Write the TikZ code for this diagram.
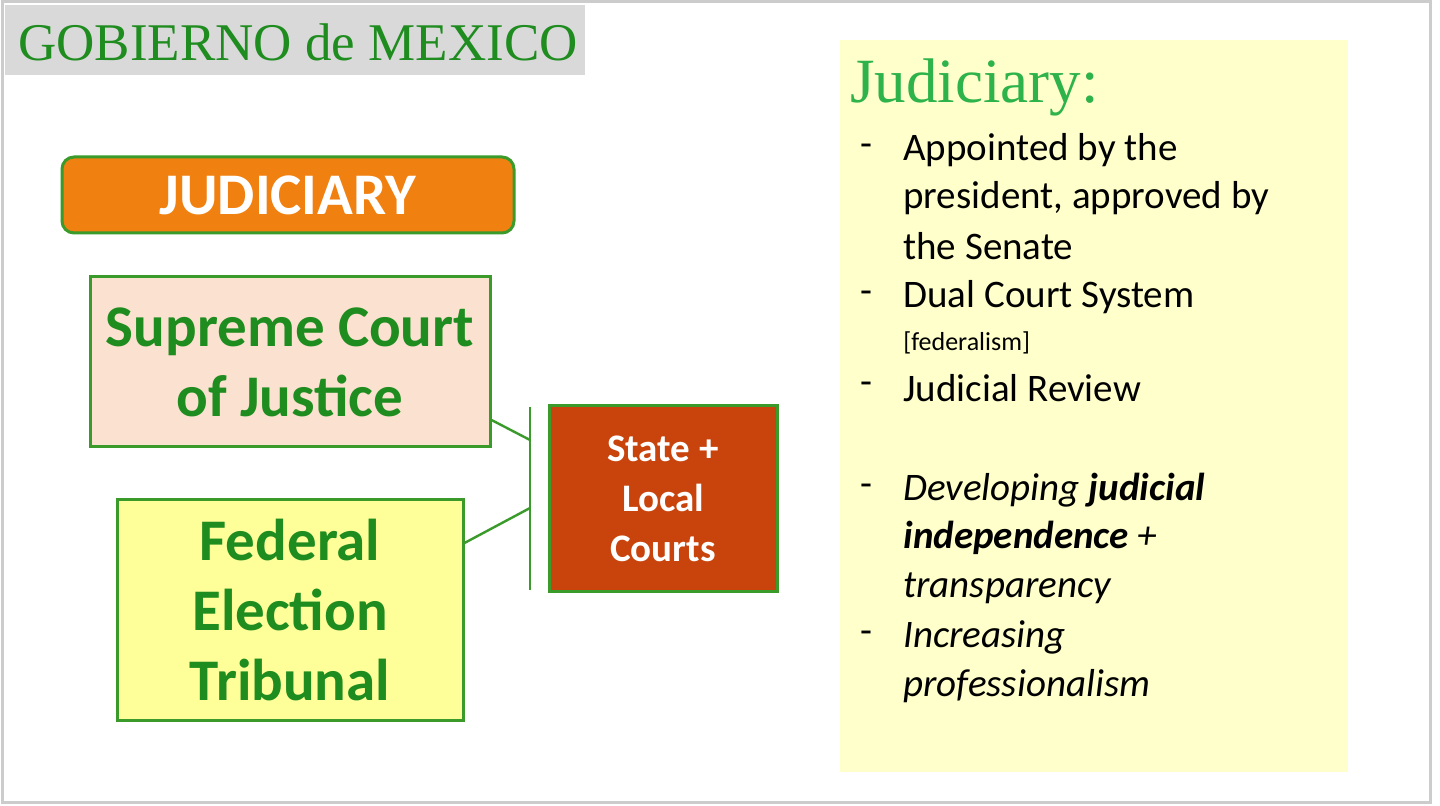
\documentclass[tikz,border=0pt]{standalone}
\usepackage{fontspec}
\setmainfont{Carlito}
\newfontfamily\serifx{Liberation Serif}
\definecolor{tgreen}{HTML}{1E8C1E}
\definecolor{lgreen}{HTML}{2DB34A}
\definecolor{bgreen}{HTML}{3A9A2A}
\definecolor{orng}{HTML}{F08010}
\definecolor{rust}{HTML}{C8440C}
\definecolor{peach}{HTML}{FBE2D0}
\definecolor{yel}{HTML}{FFFF99}
\definecolor{pale}{HTML}{FFFFCC}
\tikzset{
 box/.style={draw=bgreen,line width=1.5pt,inner sep=0pt,align=center},
 conn/.style={draw=bgreen,line width=1.2pt},
 bul/.style={anchor=west,font=\fontsize{19.5}{24}\selectfont,align=left,inner sep=0pt},
 dsh/.style={anchor=west,font=\fontsize{19.5}{24}\selectfont,inner sep=0pt}
}
\begin{document}
\begin{tikzpicture}[x=0.5pt,y=-0.5pt]
\useasboundingbox (0,0) rectangle (1440,806);
\draw[gray!40,line width=1.5pt,fill=white] (2,2) rectangle (1430,802);
\node[fill=gray!30,minimum width=290pt,minimum height=35pt,inner sep=0pt] (title) at (295,40) {};
\node[anchor=west,text=tgreen,font=\serifx\fontsize{26.5}{28}\selectfont,inner sep=0pt] (tt) at (18,42) {GOBIERNO de MEXICO};
\node[box,fill=orng,rounded corners=6pt,minimum width=226pt,minimum height=38pt,text=white,font=\bfseries\fontsize{29.5}{30}\selectfont] (jud) at (288,195) {JUDICIARY};
\node[box,fill=peach,minimum width=200pt,minimum height=85pt,text=tgreen,font=\bfseries\fontsize{29.5}{35}\selectfont] (sc) at (290,362) {Supreme Court\\of Justice};
\node[box,fill=yel,minimum width=173pt,minimum height=110pt,text=tgreen,font=\bfseries\fontsize{29.5}{35}\selectfont] (fe) at (290,610) {Federal\\Election\\Tribunal};
\node[box,fill=rust,minimum width=114pt,minimum height=93pt,text=white,font=\bfseries\fontsize{19.5}{25}\selectfont] (sl) at (663,499) {State +\\Local\\Courts};
\coordinate (vt) at (530,407); \coordinate (vb) at (530,590);
\coordinate (j1) at (530,440); \coordinate (j2) at (530,508);
\draw[conn] (vt) -- (vb);
\draw[conn] (sc.east |- 0,420) -- (j1);
\draw[conn] (fe.east |- 0,543) -- (j2);
\node[fill=pale,minimum width=254pt,minimum height=366pt,inner sep=0pt] (panel) at (1094,406) {};
\node[anchor=west,text=lgreen,font=\serifx\fontsize{31.5}{32}\selectfont,inner sep=0pt] (ph) at (850,87) {Judiciary:};
\foreach \y/\t in {150/{Appointed by the}, 198/{president, approved by}, 246/{the Senate},
 297/{Dual Court System}, 388/{Judicial Review},
 490/{\itshape Developing \textbf{judicial}}, 538/{\itshape\textbf{independence} +}, 588/{\itshape transparency},
 637/{\itshape Increasing}, 686/{\itshape professionalism}}
 {\node[bul] at (903,\y) {\t};}
\node[bul,font=\fontsize{13}{14}\selectfont] at (903,343) {[federalism]};
\foreach \y in {150,297,388,490,637}
 {\node[dsh] at (860,\y) {-};}
\end{tikzpicture}
\end{document}
